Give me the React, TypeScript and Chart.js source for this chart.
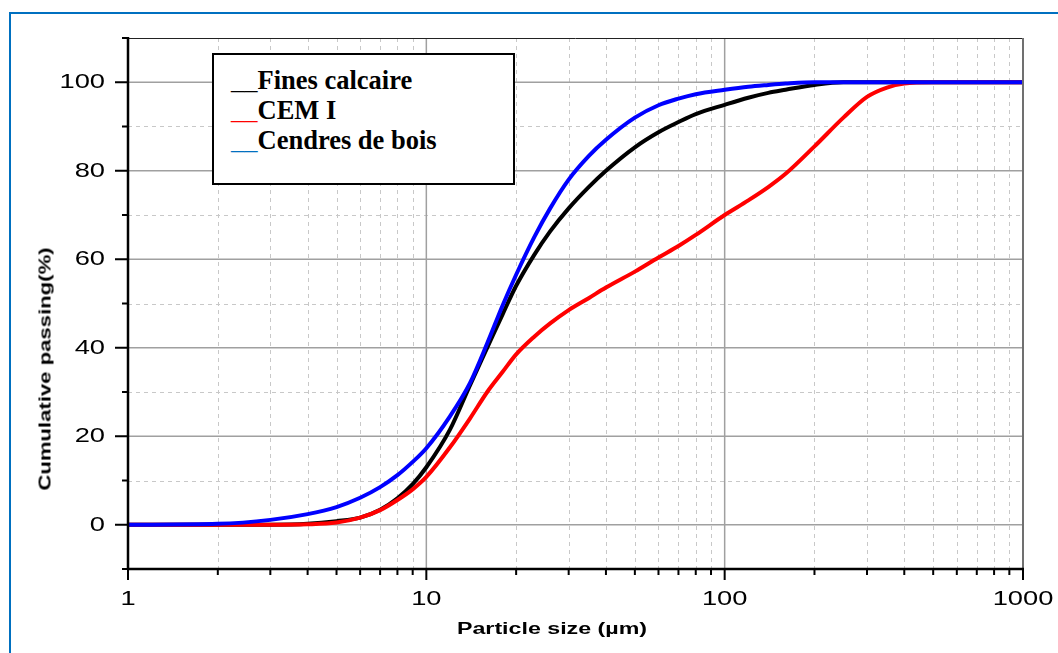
import React, { useEffect, useRef } from 'react';
import { Chart, registerables } from 'chart.js';

Chart.register(...registerables);

// Particle sizes (µm)
const sizes = [1, 2, 3, 4, 5, 6, 7, 8, 9, 10, 12, 14, 16, 18, 20, 23, 26, 30, 35, 40, 50, 60, 70, 80, 100, 120, 140, 160, 200, 250, 300, 350, 400, 500, 700, 1000];
// Cumulative passing (%)
const finesCalcaire = [0, 0, 0, 0.2, 0.8, 1.6, 3.4, 6.0, 9.2, 13, 21.5, 31.5, 40, 47.5, 54, 61, 66.3, 71.5, 76.3, 80, 85.3, 88.7, 91, 92.8, 94.9, 96.5, 97.6, 98.3, 99.4, 100, 100, 100, 100, 100, 100, 100];
const cemI = [0, 0, 0, 0.1, 0.5, 1.6, 3.3, 5.6, 8, 10.8, 17.5, 24, 30, 34.5, 38.5, 42.5, 45.5, 48.5, 51.2, 53.6, 57.2, 60.4, 63, 65.5, 70, 73.3, 76.3, 79.3, 85.5, 92, 96.7, 98.8, 99.7, 100, 100, 100];
const cendresDeBois = [0, 0.2, 1.1, 2.4, 4.0, 6.1, 8.5, 11.2, 14.2, 17.3, 24.5, 32, 41, 49.5, 56.5, 65, 71.5, 78, 83.3, 87, 92, 94.8, 96.3, 97.3, 98.3, 99, 99.4, 99.7, 100, 100, 100, 100, 100, 100, 100, 100];

const seriesNames = ['Fines calcaire', 'CEM I', 'Cendres de bois'];
const seriesColors = ['#000000', '#ff0000', '#0000ff'];
const legendMarkColors = ['#000000', '#ff0000', '#0070c0'];

const yMajorTicks = [0, 20, 40, 60, 80, 100];
const yMinorTicks = [-10, 10, 30, 50, 70, 90, 110];
const xMajorTicks = [1, 10, 100, 1000];
const xMinorTicks = [2, 3, 4, 5, 6, 7, 8, 9, 20, 30, 40, 50, 60, 70, 80, 90, 200, 300, 400, 500, 600, 700, 800, 900];

const xTitle = 'Particle size (µm)';
const yTitle = 'Cumulative passing(%)';

const gridPlugin = {
  id: 'customGrid',
  beforeDatasetsDraw(chart: any) {
    const { ctx, chartArea: a, scales } = chart;
    const x = scales.x;
    const y = scales.y;
    ctx.save();
    // minor dashed grid
    ctx.lineWidth = 1;
    ctx.strokeStyle = '#c8c8c8';
    ctx.setLineDash([4, 4]);
    ctx.beginPath();
    for (const v of yMinorTicks) {
      if (v <= -10 || v >= 110) continue;
      const p = Math.round(y.getPixelForValue(v)) + 0.5;
      ctx.moveTo(a.left, p);
      ctx.lineTo(a.right, p);
    }
    for (const v of xMinorTicks) {
      const p = Math.round(x.getPixelForValue(v)) + 0.5;
      ctx.moveTo(p, a.top);
      ctx.lineTo(p, a.bottom);
    }
    ctx.stroke();
    // major solid grid
    ctx.setLineDash([]);
    ctx.strokeStyle = '#a0a0a0';
    ctx.lineWidth = 1.5;
    ctx.beginPath();
    for (const v of yMajorTicks) {
      const p = y.getPixelForValue(v);
      ctx.moveTo(a.left, p);
      ctx.lineTo(a.right, p);
    }
    for (const v of xMajorTicks) {
      if (v === 1 || v === 1000) continue;
      const p = x.getPixelForValue(v);
      ctx.moveTo(p, a.top);
      ctx.lineTo(p, a.bottom);
    }
    ctx.stroke();
    ctx.restore();
  },
  afterDatasetsDraw(chart: any) {
    const { ctx, chartArea: a, scales } = chart;
    const x = scales.x;
    const y = scales.y;
    ctx.save();
    // top border
    ctx.strokeStyle = '#222222';
    ctx.lineWidth = 1;
    ctx.beginPath();
    ctx.moveTo(a.left, a.top + 0.5);
    ctx.lineTo(a.right, a.top + 0.5);
    ctx.stroke();
    // right border
    ctx.strokeStyle = '#707070';
    ctx.lineWidth = 2;
    ctx.beginPath();
    ctx.moveTo(a.right, a.top);
    ctx.lineTo(a.right, a.bottom);
    ctx.stroke();
    // axes
    ctx.strokeStyle = '#000000';
    ctx.lineWidth = 2.5;
    ctx.beginPath();
    ctx.moveTo(a.left, a.top - 1);
    ctx.lineTo(a.left, a.bottom + 1);
    ctx.moveTo(a.left - 1, a.bottom);
    ctx.lineTo(a.right + 1, a.bottom);
    ctx.stroke();
    // ticks
    ctx.lineWidth = 2;
    ctx.beginPath();
    for (const v of yMajorTicks) {
      const p = y.getPixelForValue(v);
      ctx.moveTo(a.left - 13, p);
      ctx.lineTo(a.left, p);
    }
    for (const v of yMinorTicks) {
      const p = y.getPixelForValue(v);
      ctx.moveTo(a.left - 6, p);
      ctx.lineTo(a.left, p);
    }
    for (const v of xMajorTicks) {
      const p = x.getPixelForValue(v);
      ctx.moveTo(p, a.bottom);
      ctx.lineTo(p, a.bottom + 11);
    }
    for (const v of xMinorTicks) {
      const p = x.getPixelForValue(v);
      ctx.moveTo(p, a.bottom);
      ctx.lineTo(p, a.bottom + 6);
    }
    ctx.stroke();
    ctx.restore();
  },
};

// Horizontally widen tick label glyphs like in the reference
const stretchPlugin = {
  id: 'stretchText',
  beforeDraw(chart: any) {
    const ctx = chart.ctx as any;
    if (ctx.__origFillText) return;
    const orig = ctx.fillText;
    ctx.__origFillText = orig;
    ctx.fillText = function (text: string, x: number, y: number, maxWidth?: number) {
      this.save();
      this.translate(x, y);
      this.scale(1.3, 1);
      if (maxWidth === undefined) orig.call(this, text, 0, 0);
      else orig.call(this, text, 0, 0, maxWidth);
      this.restore();
    };
  },
  afterDraw(chart: any) {
    const ctx = chart.ctx as any;
    if (ctx.__origFillText) {
      ctx.fillText = ctx.__origFillText;
      delete ctx.__origFillText;
    }
  },
};

const isPow10 = (v: number) => Math.abs(Math.log10(v) - Math.round(Math.log10(v))) < 1e-9;

export default function App() {
  const canvasRef = useRef<HTMLCanvasElement | null>(null);

  useEffect(() => {
    const canvas = canvasRef.current;
    if (!canvas) return;
    const seriesValues = [finesCalcaire, cemI, cendresDeBois];
    const orders = [2, 1, 0];
    const chart = new Chart(canvas, {
      type: 'line',
      data: {
        datasets: seriesValues.map((vals, i) => ({
          label: seriesNames[i],
          data: sizes.map((s, j) => ({ x: s, y: vals[j] })),
          borderColor: seriesColors[i],
          backgroundColor: seriesColors[i],
          borderWidth: 4,
          pointRadius: 0,
          pointHoverRadius: 0,
          fill: false,
          cubicInterpolationMode: 'monotone',
          order: orders[i],
        })),
      },
      options: {
        responsive: false,
        animation: false,
        devicePixelRatio: 1,
        layout: { padding: { top: 38, right: 35, left: 0, bottom: 0 } },
        plugins: {
          legend: { display: false },
          tooltip: { enabled: false },
          title: { display: false },
        },
        scales: {
          x: {
            type: 'logarithmic',
            min: 1,
            max: 1000,
            grid: { display: false },
            border: { display: false },
            ticks: {
              autoSkip: false,
              maxRotation: 0,
              minRotation: 0,
              padding: 10,
              color: '#000000',
              font: { family: "'Liberation Sans', Arial, sans-serif", size: 21 },
              callback: (v: any) => (isPow10(Number(v)) ? String(Number(v)) : ''),
            },
            afterFit: (s: any) => {
              s.height = 84;
              s.paddingLeft = 0;
              s.paddingRight = 0;
            },
          },
          y: {
            type: 'linear',
            min: -10,
            max: 110,
            grid: { display: false },
            border: { display: false },
            ticks: {
              stepSize: 10,
              padding: 15,
              color: '#000000',
              font: { family: "'Liberation Sans', Arial, sans-serif", size: 21 },
              callback: (v: any) => (yMajorTicks.includes(Number(v)) ? String(v) : ''),
            },
            afterFit: (s: any) => {
              s.width = 128;
              s.paddingTop = 0;
              s.paddingBottom = 0;
            },
          },
        },
      } as any,
      plugins: [gridPlugin, stretchPlugin],
    } as any);
    return () => chart.destroy();
  }, []);

  return (
    <div
      style={{
        position: 'fixed',
        left: 0,
        top: 0,
        width: 1058,
        height: 653,
        overflow: 'hidden',
        background: '#ffffff',
      }}
    >
      <div
        style={{
          position: 'absolute',
          left: 9,
          top: 12,
          width: 1200,
          height: 800,
          border: '2px solid #0070c0',
        }}
      />
      <canvas
        ref={canvasRef}
        width={1058}
        height={653}
        style={{ position: 'absolute', left: 0, top: 0 }}
      />
      <div
        style={{
          position: 'absolute',
          left: 212,
          top: 53,
          width: 282,
          height: 118,
          border: '2px solid #000000',
          background: '#ffffff',
          padding: '10px 0 0 17px',
          boxSizing: 'content-box' as const,
          fontFamily: "'Liberation Serif', 'Times New Roman', serif",
          fontWeight: 'bold',
          fontSize: 26.5,
          lineHeight: '30px',
          color: '#000000',
          whiteSpace: 'nowrap',
        }}
      >
        {seriesNames.map((name, i) => (
          <div key={name}>
            <span style={{ color: legendMarkColors[i], fontWeight: 'normal' }}>__</span>
            {name}
          </div>
        ))}
      </div>
      <div
        style={{
          position: 'absolute',
          left: 552,
          top: 629,
          transform: 'translate(-50%, -50%) scaleX(1.45)',
          fontFamily: "'Liberation Sans', Arial, sans-serif",
          fontWeight: 'bold',
          fontSize: 16,
          lineHeight: 1,
          whiteSpace: 'nowrap',
          color: '#000000',
        }}
      >
        {xTitle}
      </div>
      <div
        style={{
          position: 'absolute',
          left: 45,
          top: 369,
          transform: 'translate(-50%, -50%) rotate(-90deg) scaleX(1.3)',
          fontFamily: "'Liberation Sans', Arial, sans-serif",
          fontWeight: 'bold',
          fontSize: 17,
          lineHeight: 1,
          whiteSpace: 'nowrap',
          color: '#000000',
        }}
      >
        {yTitle}
      </div>
    </div>
  );
}
